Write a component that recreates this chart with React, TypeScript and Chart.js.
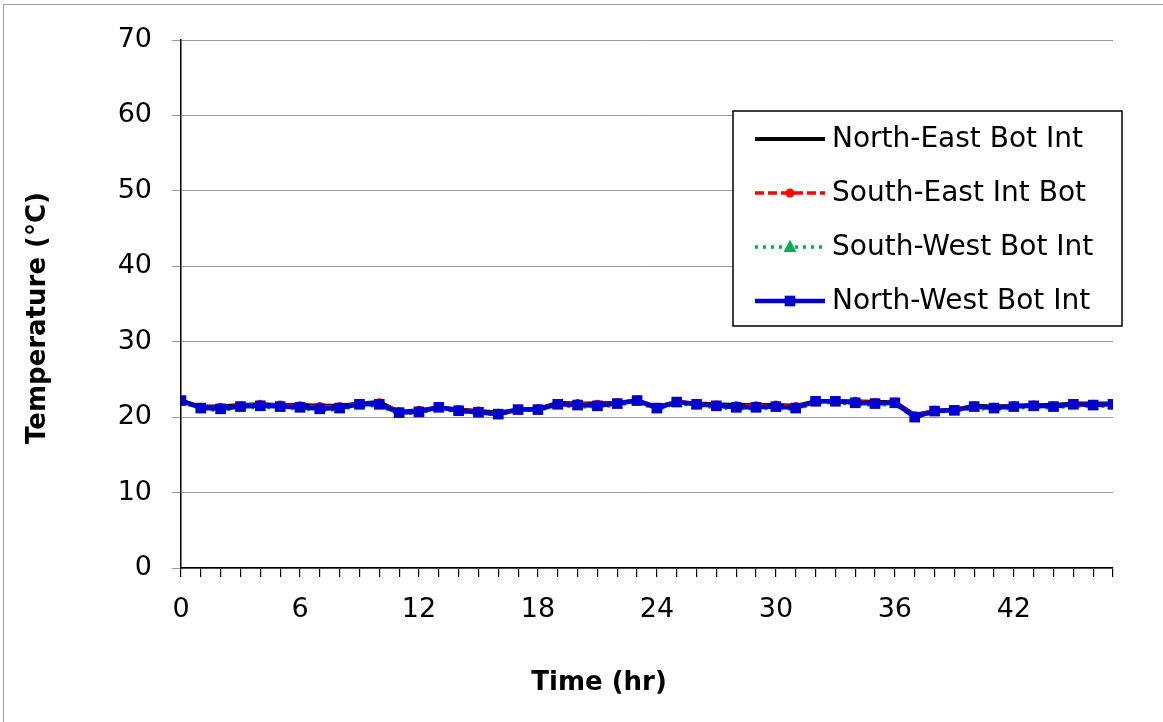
import React, { useEffect, useRef } from "react";
import { Chart, registerables } from "chart.js";

Chart.register(...registerables);

// Hourly interior bottom temperatures (°C), hours 0..47
const hours: number[] = [
  0, 1, 2, 3, 4, 5, 6, 7, 8, 9, 10, 11, 12, 13, 14, 15, 16, 17, 18, 19, 20, 21, 22, 23,
  24, 25, 26, 27, 28, 29, 30, 31, 32, 33, 34, 35, 36, 37, 38, 39, 40, 41, 42, 43, 44, 45, 46, 47,
];

const northEastBotInt: number[] = [
  22.2, 21.4, 21.4, 21.6, 21.7, 21.6, 21.6, 21.5, 21.5, 21.8, 22.0, 20.7, 20.9, 21.3, 21.0, 20.8,
  20.6, 21.0, 21.1, 21.9, 21.8, 21.8, 21.9, 22.2, 21.4, 22.0, 21.8, 21.7, 21.6, 21.6, 21.6, 21.5,
  22.1, 22.1, 22.1, 22.0, 22.0, 20.3, 20.8, 21.0, 21.5, 21.4, 21.5, 21.6, 21.6, 21.8, 21.8, 21.8,
];

const southEastIntBot: number[] = [
  22.2, 21.3, 21.3, 21.5, 21.7, 21.6, 21.5, 21.4, 21.4, 21.8, 21.9, 20.7, 20.9, 21.3, 21.0, 20.8,
  20.5, 21.0, 21.1, 21.8, 21.8, 21.7, 21.9, 22.3, 21.3, 22.1, 21.8, 21.6, 21.5, 21.5, 21.6, 21.4,
  22.1, 22.2, 22.1, 21.9, 22.0, 20.2, 20.9, 21.0, 21.5, 21.3, 21.5, 21.6, 21.5, 21.8, 21.7, 21.8,
];

const southWestBotInt: number[] = [
  22.1, 21.0, 20.9, 21.2, 21.3, 21.2, 21.1, 20.9, 21.0, 21.5, 21.5, 20.4, 20.6, 21.1, 20.7, 20.5,
  20.3, 20.9, 20.9, 21.5, 21.4, 21.3, 21.6, 22.0, 21.0, 21.8, 21.5, 21.3, 21.1, 21.1, 21.2, 21.0,
  21.9, 21.9, 21.7, 21.6, 21.7, 19.9, 20.7, 20.8, 21.2, 21.0, 21.2, 21.3, 21.2, 21.5, 21.4, 21.5,
];

const northWestBotInt: number[] = [
  22.2, 21.2, 21.1, 21.4, 21.5, 21.4, 21.3, 21.1, 21.2, 21.7, 21.7, 20.6, 20.7, 21.3, 20.85, 20.65,
  20.4, 21.0, 21.0, 21.7, 21.6, 21.5, 21.8, 22.2, 21.2, 22.0, 21.7, 21.5, 21.3, 21.3, 21.4, 21.2,
  22.1, 22.1, 21.9, 21.8, 21.9, 20.0, 20.8, 20.9, 21.4, 21.2, 21.4, 21.5, 21.4, 21.7, 21.6, 21.7,
];

const seriesNames: string[] = [
  "North-East Bot Int",
  "South-East Int Bot",
  "South-West Bot Int",
  "North-West Bot Int",
];

const xLabelHours: number[] = [0, 6, 12, 18, 24, 30, 36, 42];
const xTitle = "Time (hr)";
const yTitle = "Temperature (°C)";

const FONT = "'DejaVu Sans', 'Liberation Sans', Arial, sans-serif";

const toPoints = (vals: number[]) => vals.map((y, i) => ({ x: hours[i], y }));

// Axis titles and a boxed legend inside the plot area, upper right
const chartDecor = {
  id: "chartDecor",
  afterDraw(chart: any) {
    const { ctx, chartArea } = chart;
    ctx.save();

    // axis titles
    ctx.fillStyle = "#000000";
    ctx.font = `bold 26px ${FONT}`;
    ctx.textAlign = "center";
    ctx.textBaseline = "middle";
    ctx.fillText(xTitle, chartArea.left + 418, chartArea.bottom + 115);
    ctx.save();
    ctx.translate(38, chartArea.top + 278);
    ctx.rotate(-Math.PI / 2);
    ctx.fillText(yTitle, 0, 0);
    ctx.restore();

    // legend
    const bx = chartArea.left + 552;
    const by = chartArea.top + 71;
    const bw = 389;
    const bh = 215;
    ctx.fillStyle = "#ffffff";
    ctx.fillRect(bx, by, bw, bh);
    ctx.strokeStyle = "#000000";
    ctx.lineWidth = 1.5;
    ctx.strokeRect(bx, by, bw, bh);

    const rows = [by + 28, by + 82, by + 136, by + 190];
    const x0 = bx + 22;
    const x1 = bx + 92;
    const mx = (x0 + x1) / 2;
    const byName: Record<string, any> = {};
    chart.data.datasets.forEach((d: any) => (byName[d.label] = d));

    seriesNames.forEach((name, i) => {
      const ds = byName[name];
      const y = rows[i];
      ctx.beginPath();
      ctx.setLineDash(ds.borderDash || []);
      ctx.lineCap = "butt";
      ctx.strokeStyle = ds.borderColor;
      ctx.lineWidth = ds.borderWidth;
      ctx.moveTo(x0, y);
      ctx.lineTo(x1, y);
      ctx.stroke();
      ctx.setLineDash([]);
      ctx.fillStyle = ds.pointBackgroundColor;
      const r = ds.pointRadius;
      if (ds.pointStyle === "circle" && r > 0) {
        ctx.beginPath();
        ctx.arc(mx, y, r, 0, Math.PI * 2);
        ctx.fill();
      } else if (ds.pointStyle === "triangle" && r > 0) {
        ctx.beginPath();
        ctx.moveTo(mx, y - r * 1.1);
        ctx.lineTo(mx + r, y + r * 0.75);
        ctx.lineTo(mx - r, y + r * 0.75);
        ctx.closePath();
        ctx.fill();
      } else if (ds.pointStyle === "rect" && r > 0) {
        const s = r * Math.SQRT1_2;
        ctx.fillRect(mx - s, y - s, 2 * s, 2 * s);
      }
      ctx.fillStyle = "#000000";
      ctx.font = `28px ${FONT}`;
      ctx.textBaseline = "middle";
      ctx.textAlign = "left";
      ctx.fillText(name, bx + 99, y + 1);
    });
    ctx.restore();
  },
};

export default function App() {
  const canvasRef = useRef<HTMLCanvasElement | null>(null);

  useEffect(() => {
    if (!canvasRef.current) return;
    const chart = new Chart(canvasRef.current, {
      type: "line",
      data: {
        datasets: [
          {
            label: seriesNames[0],
            data: toPoints(northEastBotInt),
            borderColor: "#000000",
            backgroundColor: "#000000",
            borderWidth: 4,
            pointRadius: 0,
            pointStyle: "circle",
            pointBackgroundColor: "#000000",
            order: 3,
          },
          {
            label: seriesNames[1],
            data: toPoints(southEastIntBot),
            borderColor: "#ff0000",
            backgroundColor: "#ff0000",
            borderWidth: 3.5,
            borderDash: [9, 4],
            pointRadius: 4.5,
            pointStyle: "circle",
            pointBackgroundColor: "#ff0000",
            pointBorderWidth: 0,
            order: 2,
          },
          {
            label: seriesNames[2],
            data: toPoints(southWestBotInt),
            borderColor: "#00b050",
            backgroundColor: "#00b050",
            borderWidth: 3.5,
            borderDash: [3, 5],
            pointRadius: 6.5,
            pointStyle: "triangle",
            pointBackgroundColor: "#00b050",
            pointBorderWidth: 0,
            order: 1,
          },
          {
            label: seriesNames[3],
            data: toPoints(northWestBotInt),
            borderColor: "#0000cc",
            backgroundColor: "#0000cc",
            borderWidth: 4.5,
            pointRadius: 7.5,
            pointStyle: "rect",
            pointBackgroundColor: "#0000cc",
            pointBorderWidth: 0,
            order: 0,
          },
        ],
      },
      options: {
        responsive: false,
        animation: false,
        devicePixelRatio: 1,
        layout: { padding: { left: 0, top: 40, right: 50, bottom: 0 } },
        plugins: {
          legend: { display: false },
          tooltip: { enabled: false },
        },
        scales: {
          x: {
            type: "linear",
            min: 0,
            max: 47,
            afterFit: (s: any) => {
              s.height = 154;
            },
            ticks: {
              stepSize: 1,
              autoSkip: false,
              maxRotation: 0,
              padding: 17,
              color: "#000000",
              font: { family: FONT, size: 27 },
              callback: (v: any) => (xLabelHours.includes(Number(v)) ? String(v) : ""),
            },
            grid: {
              display: true,
              drawOnChartArea: false,
              drawTicks: true,
              tickLength: 9,
              color: "#000000",
              lineWidth: 1.2,
            },
            border: { display: true, color: "#000000", width: 1.5 },
            title: { display: false },
          },
          y: {
            min: 0,
            max: 70,
            afterFit: (s: any) => {
              s.width = 181;
            },
            ticks: {
              stepSize: 10,
              padding: 20,
              color: "#000000",
              font: { family: FONT, size: 27 },
            },
            grid: {
              display: true,
              drawTicks: true,
              tickLength: 9,
              color: "#999999",
              lineWidth: 1,
            },
            border: { display: true, color: "#000000", width: 1.5 },
            title: { display: false },
          },
        },
      },
      plugins: [chartDecor],
    } as any);
    return () => chart.destroy();
  }, []);

  return (
    <div style={{ position: "absolute", left: 0, top: 0, width: 1163, height: 722, overflow: "hidden", background: "#ffffff" }}>
      <div
        style={{
          position: "absolute",
          left: 3,
          top: 4,
          width: 1160,
          height: 718,
          borderLeft: "1px solid #a0a0a0",
          borderTop: "1px solid #a0a0a0",
          boxSizing: "border-box",
        }}
      />
      <canvas ref={canvasRef} width={1163} height={722} style={{ position: "absolute", left: 0, top: 0 }} />
    </div>
  );
}
